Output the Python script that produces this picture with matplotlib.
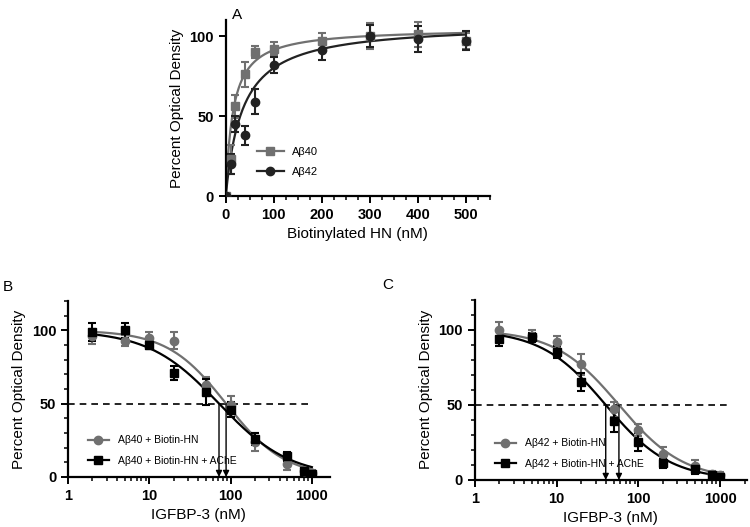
import numpy as np
import matplotlib
matplotlib.use('Agg')
import matplotlib.pyplot as plt
from matplotlib.lines import Line2D
from matplotlib.ticker import MultipleLocator, LogLocator, NullFormatter

plt.rcParams['font.family'] = ['Liberation Sans', 'DejaVu Sans']

GRAY = '#707070'
DARK = '#222222'

# panel A - binding
hn_conc = [0, 10, 20, 40, 60, 100, 200, 300, 400, 500]
ab40_od = [0, 23, 56, 76, 90, 92, 97, 100, 101, 97]
ab40_err = [0, 9, 7, 8, 4, 4, 5, 8, 8, 5]
ab42_od = [0, 20, 45, 38, 59, 82, 91, 100, 98, 97]
ab42_err = [0, 6, 5, 6, 8, 5, 6, 7, 8, 6]
# hyperbolic fit params (Bmax, Kd)
fit_ab40 = (105, 15)
fit_ab42 = (108, 35)

# panels B/C - competition with IGFBP-3
igf_conc = [2, 5, 10, 20, 50, 100, 200, 500, 800, 1000]
b_hn = [96, 93, 95, 93, 63, 49, 24, 9, 4, 3]
b_hn_err = [5, 4, 4, 6, 5, 6, 6, 4, 2, 2]
b_ache = [99, 100, 90, 71, 58, 46, 26, 14, 4, 2]
b_ache_err = [6, 5, 3, 5, 9, 5, 4, 3, 2, 2]
c_hn = [100, 96, 92, 77, 47, 33, 17, 9, 4, 3]
c_hn_err = [5, 4, 4, 7, 5, 4, 5, 4, 2, 2]
c_ache = [94, 95, 85, 65, 39, 25, 11, 7, 3, 2]
c_ache_err = [5, 3, 4, 6, 7, 6, 3, 3, 2, 2]
# sigmoid fit params (IC50, hill)
fit_b_hn = (88, 1.2)
fit_b_ache = (72, 1.0)
fit_c_hn = (58, 1.1)
fit_c_ache = (40, 1.1)


def style_axes(ax):
    for s in ['top', 'right']:
        ax.spines[s].set_visible(False)
    for s in ['left', 'bottom']:
        ax.spines[s].set_linewidth(1.6)
    ax.tick_params(which='major', width=1.4, length=5, labelsize=10.5)
    ax.tick_params(which='minor', width=1.1, length=3)
    for lbl in ax.get_xticklabels() + ax.get_yticklabels():
        lbl.set_fontweight('bold')


def errplot(ax, x, y, err, color, marker):
    ax.errorbar(x, y, yerr=err, fmt=marker, color=color, ms=6, elinewidth=1.5,
                capsize=3, capthick=1.5, zorder=3)


def key(color, marker):
    return Line2D([], [], color=color, marker=marker, ms=6, lw=1.6)


fig = plt.figure(figsize=(7.5, 5.27), dpi=100)

# ---- panel A
axA = fig.add_axes([0.301, 0.628, 0.352, 0.334])
xs = np.linspace(0, 500, 300)
for (bmax, kd), col in [(fit_ab40, GRAY), (fit_ab42, DARK)]:
    axA.plot(xs, bmax * xs / (kd + xs), color=col, lw=1.6, zorder=2)
errplot(axA, hn_conc, ab40_od, ab40_err, GRAY, 's')
errplot(axA, hn_conc, ab42_od, ab42_err, DARK, 'o')
axA.set_xlim(0, 550)
axA.set_ylim(0, 110)
axA.set_xticks([0, 100, 200, 300, 400, 500])
axA.xaxis.set_minor_locator(MultipleLocator(25))
axA.set_yticks([0, 50, 100])
axA.set_xlabel('Biotinylated HN (nM)', fontsize=11)
axA.set_ylabel('Percent Optical Density', fontsize=11)
style_axes(axA)
axA.legend([key(GRAY, 's'), key(DARK, 'o')], ['A\u03b240', 'A\u03b242'],
           loc='lower left', bbox_to_anchor=(0.08, 0.05), frameon=False,
           fontsize=8, handlelength=2.4, labelspacing=0.9)


def comp_panel(rect, hn, hn_err, ache, ache_err, fhn, fache, pep, dash_end):
    ax = fig.add_axes(rect)
    xs = np.logspace(np.log10(2), 3, 300)
    for (ic, h), col in [(fhn, GRAY), (fache, 'black')]:
        ax.plot(xs, 100 / (1 + (xs / ic) ** h), color=col, lw=1.6, zorder=2)
    errplot(ax, igf_conc, hn, hn_err, GRAY, 'o')
    errplot(ax, igf_conc, ache, ache_err, 'black', 's')
    ax.plot([1, dash_end], [50, 50], color='black', lw=1.2, ls=(0, (4, 3)), zorder=1)
    for ic, _ in [fache, fhn]:
        ax.annotate('', xy=(ic, 0), xytext=(ic, 50),
                    arrowprops=dict(arrowstyle='-|>', color='black', lw=1.0,
                                    mutation_scale=9, shrinkA=0, shrinkB=0))
    ax.set_xscale('log')
    ax.set_ylim(0, 120)
    ax.set_yticks([0, 50, 100])
    ax.yaxis.set_minor_locator(MultipleLocator(10))
    ax.xaxis.set_minor_locator(LogLocator(base=10, subs=np.arange(2, 10)))
    ax.xaxis.set_minor_formatter(NullFormatter())
    ax.set_xticks([1, 10, 100, 1000])
    ax.set_xticklabels(['1', '10', '100', '1000'])
    ax.set_xlabel('IGFBP-3 (nM)', fontsize=11)
    ax.set_ylabel('Percent Optical Density', fontsize=11)
    style_axes(ax)
    ax.legend([key(GRAY, 'o'), key('black', 's')],
              [pep + ' + Biotin-HN', pep + ' + Biotin-HN + AChE'],
              loc='lower left', bbox_to_anchor=(0.04, 0.01), frameon=False,
              fontsize=7.5, handlelength=2.0, handletextpad=0.9, labelspacing=1.0)
    return ax


axB = comp_panel([0.0907, 0.0949, 0.349, 0.334], b_hn, b_hn_err, b_ache, b_ache_err,
                 fit_b_hn, fit_b_ache, 'A\u03b240', 900)
axB.set_xlim(1, 10 ** 3.22)
axC = comp_panel([0.633, 0.0892, 0.363, 0.342], c_hn, c_hn_err, c_ache, c_ache_err,
                 fit_c_hn, fit_c_ache, 'A\u03b242', 1300)
axC.set_xlim(1, 10 ** 3.33)

fig.text(0.316, 0.985, 'A', fontsize=11, va='top', ha='center')
fig.text(0.011, 0.455, 'B', fontsize=11, va='center', ha='center')
fig.text(0.517, 0.459, 'C', fontsize=11, va='center', ha='center')

fig.savefig('out.png', dpi=100)
